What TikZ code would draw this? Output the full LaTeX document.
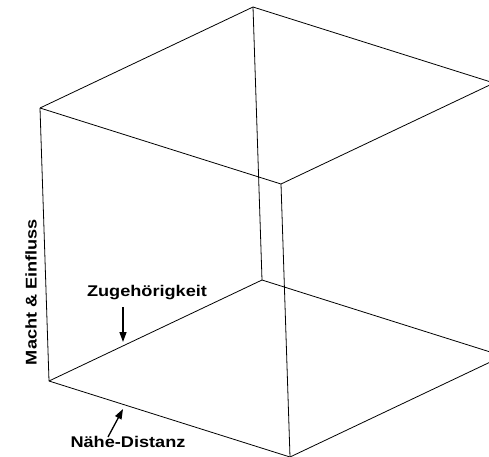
\documentclass[tikz,border=0pt]{standalone}
\usepackage{fontspec}
\setmainfont{Liberation Sans}
\usetikzlibrary{arrows.meta}
\tikzset{
  edge/.style={draw=black, line width=0.8pt},
  pointer/.style={draw=black, line width=1.3pt, -{Triangle[length=10pt,width=7pt]}},
  lbl/.style={font=\bfseries\fontsize{15.5}{18}\selectfont, inner sep=0pt},
}
\begin{document}
\begin{tikzpicture}[x=1pt, y=-1pt]
\useasboundingbox (0,0) rectangle (489,456);
\fill[white] (0,0) rectangle (489,456);
\clip (0,0) rectangle (489,456);
% vertices
\coordinate (TL) at (40,108);
\coordinate (TB) at (253,7);
\coordinate (TF) at (281,184);
\coordinate (TR) at (494,83);
\coordinate (BL) at (49,381);
\coordinate (BB) at (262,280);
\coordinate (BF) at (290,457);
\coordinate (BR) at (503,356);
% edges
\draw[edge] (TL) -- (TB);
\draw[edge] (TL) -- (TF);
\draw[edge] (TB) -- (TR);
\draw[edge] (TF) -- (TR);
\draw[edge] (TL) -- (BL);
\draw[edge] (TB) -- (BB);
\draw[edge] (TF) -- (BF);
\draw[edge] (BL) -- (BB);
\draw[edge] (BL) -- (BF);
\draw[edge] (BB) -- (BR);
\draw[edge] (BF) -- (BR);
% labels
\node[lbl, rotate=90] (macht) at (31,292) {\scalebox{1.17}[1]{Macht \& Einfluss}};
\node[lbl] (zug) at (147,293) {\scalebox{1.17}[1]{Zugehörigkeit}};
\node[lbl] (nah) at (128,442) {\scalebox{1.17}[1]{Nähe-Distanz}};
% pointers
\coordinate (zA) at (123,307);
\coordinate (zB) at (123,342);
\coordinate (nA) at (108,437);
\coordinate (nB) at (123,409);
\draw[pointer] (zA) -- (zB);
\draw[pointer] (nA) -- (nB);
\end{tikzpicture}
\end{document}
